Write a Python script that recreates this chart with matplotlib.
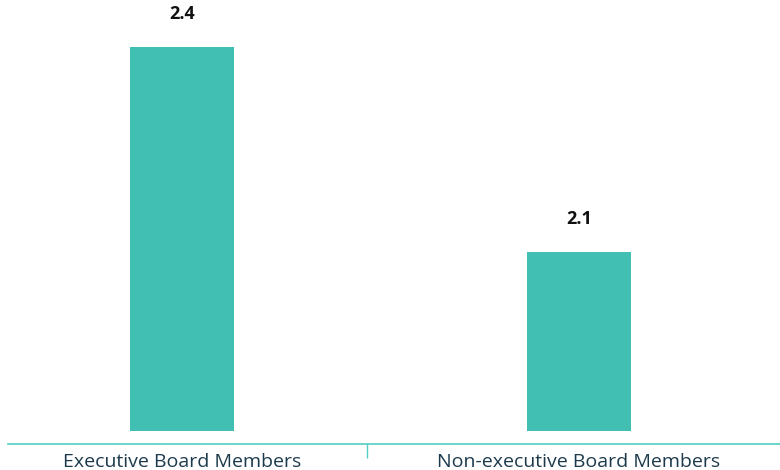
import matplotlib.pyplot as plt

categories = ['Executive Board Members', 'Non-executive Board Members']
values = [2.4, 2.1]

bar_color = '#41bfb3'
axis_color = '#52cdc2'
label_color = '#1d3a4d'

fig = plt.figure(figsize=(7.8, 4.7), dpi=100)
ax = fig.add_axes([8/780, 39/470, 772/780, 384/470])

x = range(len(categories))
bars = ax.bar(x, values, width=0.262, color=bar_color, bottom=0)
ax.set_ylim(1.838, 2.4)
ax.set_xlim(-0.438, 1.506)

for xi, v in zip(x, values):
    ax.annotate(f'{v:.1f}', (xi, v), xytext=(0, 24), textcoords='offset points',
                ha='center', va='center', fontsize=13, fontweight='bold',
                color='#111111', family='Open Sans', annotation_clip=False)

for s in ['top', 'right', 'left']:
    ax.spines[s].set_visible(False)
ax.spines['bottom'].set_position(('outward', 9))
ax.spines['bottom'].set_color(axis_color)
ax.spines['bottom'].set_linewidth(1.2)
ax.set_yticks([])

ax.set_xticks([0.465])
ax.set_xticklabels([''])
ax.tick_params(axis='x', length=10, width=1, color=axis_color, direction='out')
for xi, c in zip(x, categories):
    ax.text(xi, -0.08, c, transform=ax.get_xaxis_transform(), ha='center', va='center',
            fontsize=14, fontweight='medium', color=label_color, family='Open Sans')

fig.savefig('out.png', dpi=100)
